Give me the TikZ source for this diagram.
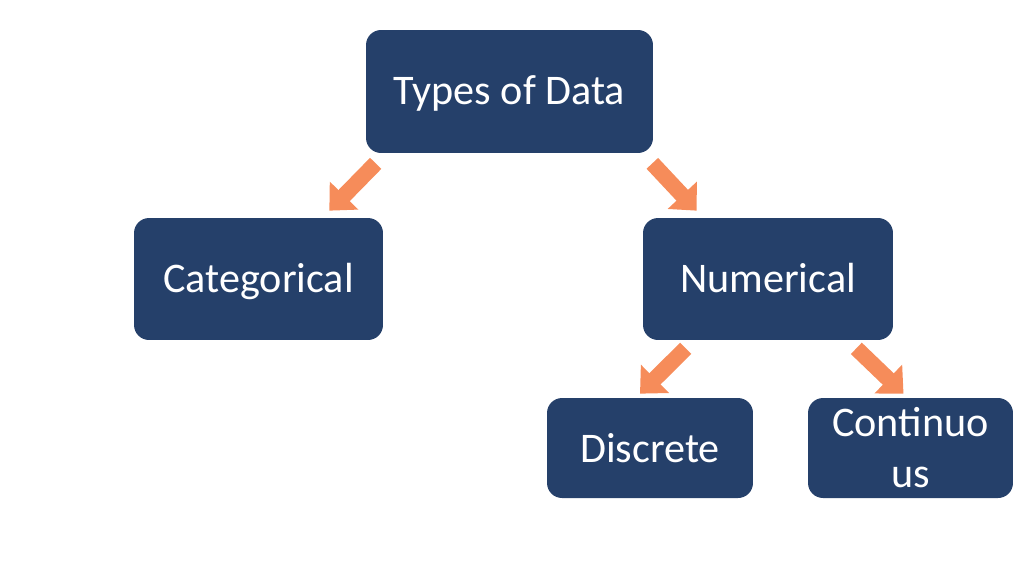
\documentclass[tikz,border=0pt]{standalone}
\usepackage{fontspec}
\setmainfont{Carlito}
\usetikzlibrary{arrows.meta,positioning,calc}
\definecolor{BoxClr}{RGB}{37,64,106}
\definecolor{ArrowClr}{RGB}{246,140,90}

\tikzset{
  databox/.style={draw=none,fill=BoxClr,rounded corners=0.3cm,text=white,
    align=center,font=\fontsize{24}{29}\selectfont,inner sep=0pt},
  lowtext/.style={text height=20pt,text depth=5pt},
  fatarrow/.style={draw=ArrowClr,line width=9pt,
    -{Triangle[width=22pt,length=12pt]}}
}

\begin{document}
\begin{tikzpicture}[x=0.02cm,y=-0.02cm]
\useasboundingbox (0,0) rectangle (1024,576);

% The boxes.
\node[databox,lowtext,minimum width=5.74cm,minimum height=2.46cm] (types) at (509.5,91.5) {Types of Data};
\node[databox,lowtext,minimum width=4.98cm,minimum height=2.44cm] (cat) at (258.5,279) {Categorical};
\node[databox,lowtext,minimum width=5cm,minimum height=2.44cm] (num) at (768,279) {Numerical};
\node[databox,minimum width=4.12cm,minimum height=2cm] (disc) at (650,448) {Discrete};
\node[databox,minimum width=4.1cm,minimum height=2cm] (cont) at (910.5,448) {Continuo\\us};

% The arrows between them.
\draw[fatarrow] ($(types.south west)+(10,10)$) -- ($(cat.north east)+(-54,-7)$);
\draw[fatarrow] ($(types.south east)+(-1,10)$) -- ($(num.north west)+(54,-7)$);
\draw[fatarrow] ($(num.south west)+(43,8)$) -- ($(disc.north)+(-10,-4)$);
\draw[fatarrow] ($(num.south east)+(-37,8)$) -- ($(cont.north)+(-7,-4)$);

\end{tikzpicture}
\end{document}
